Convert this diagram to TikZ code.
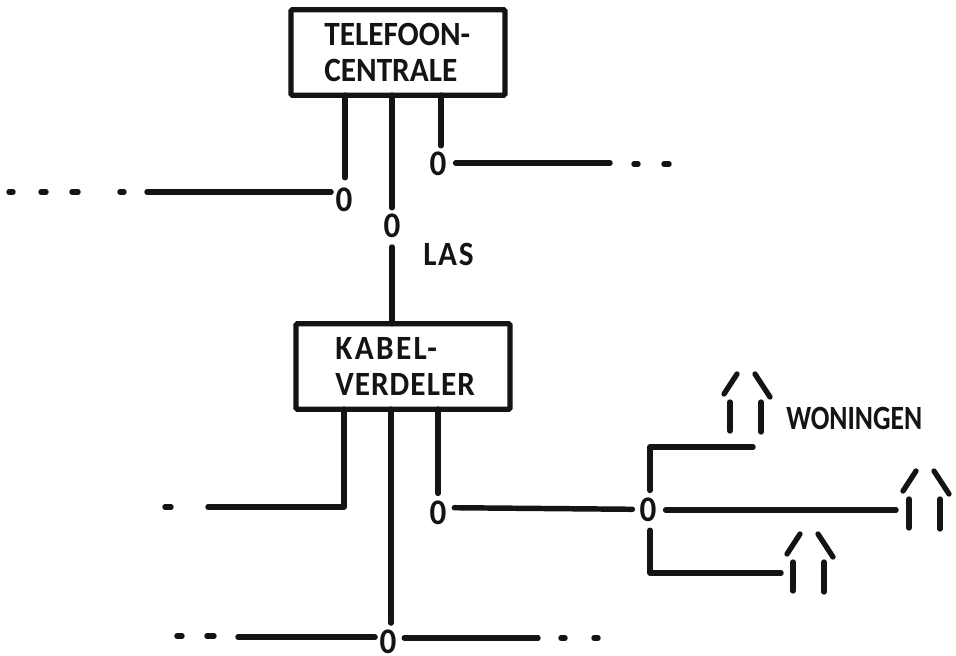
\documentclass[tikz,border=0pt]{standalone}
\usepackage{fontspec}
\setmainfont{Carlito}[FakeStretch=0.92]
\newcommand{\lblfont}{\bfseries\fontsize{25.5pt}{26.5pt}\selectfont}
\newcommand{\zerofont}{\bfseries\fontsize{27pt}{28pt}\selectfont}
\tikzset{
  wire/.style={line width=4.1pt,line cap=round,line join=round,black!92},
  slimwire/.style={line width=4pt,line cap=round,line join=round,black!92},
  boxnode/.style={draw=black!92,line width=3.9pt,rounded corners=1pt,minimum width=160.5pt,minimum height=64pt,
    inner sep=0pt,outer sep=0pt,text width=160.5pt,align=left,font=\lblfont,text=black!92},
  lbl/.style={inner sep=0pt,font=\lblfont,text=black!92,anchor=west},
  zero/.style={inner xsep=0pt,inner ysep=1pt,minimum width=16pt,font=\zerofont,text=black!92,text height=17pt,text depth=0pt},
  gap/.style={shorten >=#1},
  gapstart/.style={shorten <=#1},
}
\begin{document}
\begin{tikzpicture}[x=0.75pt,y=-0.75pt]
\useasboundingbox (0,0) rectangle (956,656);
% boxes
\node[boxnode] (b1) at (398,52.5) {\hspace*{25pt}TELEFOON-\\[0pt]\hspace*{25pt}CENTRALE};
\node[boxnode] (b2) at (403,366.5) {\hspace*{29.5pt}{\addfontfeature{LetterSpace=7}KABEL-}\\[1pt]\hspace*{29.5pt}{\addfontfeature{LetterSpace=3}VERDELER}};
% junction marks
\node[zero] (z1) at (344,200) {0};
\node[zero] (z2) at (392,226) {0};
\node[zero] (z3) at (438,164) {0};
\node[zero] (z4) at (438,513) {0};
\node[zero] (z5) at (648,510) {0};
\node[zero] (z6) at (388,642) {0};
% labels
\node[lbl] (las) at (423,254) {\addfontfeature{LetterSpace=5}LAS};
\node[lbl] (won) at (786,418) {\scalebox{0.88}[1]{WONINGEN}};
% free ends
\coordinate (e1) at (147,192);
\coordinate (e3) at (610,163);
\coordinate (e4) at (208,507);
\coordinate (k4) at (344,507);
\coordinate (e6l) at (238,637);
\coordinate (e6r) at (538,638);
\coordinate (h1) at (753,447);
\coordinate (k1) at (650,447);
\coordinate (h2) at (896,510);
\coordinate (h3) at (781,573);
\coordinate (k3) at (650,573);
% connectors from the exchange
\draw[wire,gap=7pt] ([xshift=0.75pt]b1.south -| z1.north) -- ([xshift=0.75pt]z1.north);
\draw[wire,gap=4pt] (b1.south -| z2.north) -- (z2.north);
\draw[wire,gap=4pt] ([xshift=2.25pt]b1.south -| z3.north) -- ([xshift=2.25pt]z3.north);
\draw[wire,gap=1.5pt] (e1) -- (e1 -| z1.west);
\draw[wire,gapstart=5pt] (z3.east |- e3) -- (e3);
\draw[slimwire,gapstart=6pt] (z2.south) -- (b2.north -| z2.south);
% connectors from the distribution cabinet
\draw[wire] (b2.south -| k4) -- (k4) -- (e4);
\draw[wire,gap=4.5pt] ([xshift=2.25pt]b2.south -| z6.north) -- ([xshift=2.25pt]z6.north);
\draw[wire,gap=5pt] (b2.south -| z4.north) -- (z4.north);
\draw[wire,gap=1.5pt] (e6l) -- (e6l -| z6.west);
\draw[wire,gapstart=4pt] (z6.east |- e6r) -- (e6r);
\draw[wire,gapstart=4pt,gap=3.5pt] ([yshift=4pt]z4.east) -- ([yshift=0.5pt]z5.west);
% house connections
\draw[wire,gapstart=5pt] (z5.north -| k1) -- (k1) -- (h1);
\draw[wire,gapstart=5pt] (z5.east) -- (h2);
\draw[wire,gapstart=5.5pt] (z5.south -| k3) -- (k3) -- (h3);
% dashes
\foreach \a/\b/\y in {9/13/192,41/46/192,72/78/192,120/124/192,634/638/164,664/669/164,165/171/507,177/182/636,207/214/636,561/565/638,594/598/638}
  \draw[wire] (\a,\y) -- (\b,\y);
% houses
\foreach \x/\y in {730/402,909/499,793/562}{
  \draw[slimwire] (\x,\y) -- (\x,\y+29);
  \draw[slimwire] (\x+31,\y) -- (\x+31,\y+30);
  \draw[slimwire] (\x-6,\y-8) -- (\x+7,\y-28);
  \draw[slimwire] (\x+25,\y-28) -- (\x+40,\y-5);
}
\end{tikzpicture}
\end{document}
